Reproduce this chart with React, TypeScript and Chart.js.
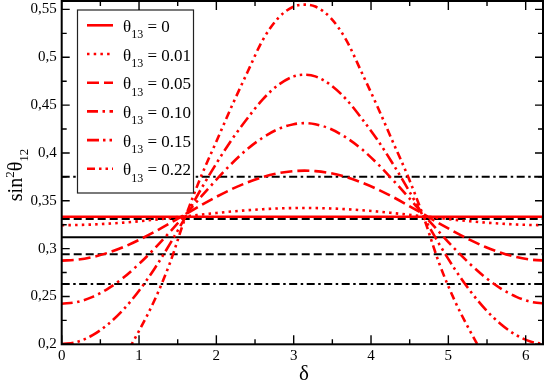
import React, { useEffect, useRef } from 'react';
import { Chart, registerables } from 'chart.js';

Chart.register(...registerables);

// ---- data ----
const DELTA = [0, 0.2, 0.4, 0.6, 0.8, 1.0, 1.2, 1.4, 1.6, 1.8, 2.0, 2.2, 2.4, 2.6, 2.8, 3.0, 3.14,
  3.28, 3.48, 3.68, 3.88, 4.08, 4.28, 4.48, 4.68, 4.88, 5.08, 5.28, 5.48, 5.68, 5.88, 6.08, 6.28];

const SIN2_T13_000 = [0.3333, 0.3333, 0.3333, 0.3333, 0.3333, 0.3333, 0.3333, 0.3333, 0.3333, 0.3333, 0.3333,
  0.3333, 0.3333, 0.3333, 0.3333, 0.3333, 0.3333, 0.3333, 0.3333, 0.3333, 0.3333, 0.3333, 0.3333, 0.3333,
  0.3333, 0.3333, 0.3333, 0.3333, 0.3333, 0.3333, 0.3333, 0.3333, 0.3333];
const SIN2_T13_001 = [0.3245, 0.3247, 0.3252, 0.3261, 0.3272, 0.3286, 0.3302, 0.332, 0.3338, 0.3355, 0.3372,
  0.3388, 0.3401, 0.3412, 0.342, 0.3424, 0.3425, 0.3424, 0.342, 0.3412, 0.3401, 0.3388, 0.3372, 0.3355,
  0.3338, 0.332, 0.3302, 0.3286, 0.3272, 0.3261, 0.3252, 0.3247, 0.3245];
const SIN2_T13_005 = [0.2875, 0.2884, 0.2912, 0.2957, 0.3017, 0.3091, 0.3175, 0.3265, 0.3359, 0.3452, 0.3541,
  0.3622, 0.3691, 0.3748, 0.3788, 0.381, 0.3815, 0.381, 0.3788, 0.3748, 0.3691, 0.3622, 0.3541, 0.3452,
  0.3359, 0.3265, 0.3175, 0.3091, 0.3017, 0.2957, 0.2912, 0.2884, 0.2875];
const SIN2_T13_010 = [0.2424, 0.2442, 0.2496, 0.2582, 0.2698, 0.284, 0.3, 0.3175, 0.3355, 0.354, 0.372,
  0.389, 0.404, 0.416, 0.425, 0.43, 0.4312, 0.43, 0.425, 0.416, 0.404, 0.389, 0.372, 0.354,
  0.3355, 0.3175, 0.3, 0.284, 0.2698, 0.2582, 0.2496, 0.2442, 0.2424];
const SIN2_T13_015 = [0.2, 0.2025, 0.2095, 0.221, 0.2365, 0.256, 0.279, 0.305, 0.333, 0.362, 0.389,
  0.414, 0.436, 0.456, 0.471, 0.48, 0.4817, 0.48, 0.471, 0.456, 0.436, 0.414, 0.389, 0.362,
  0.333, 0.305, 0.279, 0.256, 0.2365, 0.221, 0.2095, 0.2025, 0.2];
const SIN2_T13_022 = [0.123, 0.127, 0.14, 0.16, 0.1855, 0.214, 0.246, 0.285, 0.333, 0.375, 0.412,
  0.449, 0.484, 0.518, 0.541, 0.553, 0.555, 0.553, 0.541, 0.518, 0.484, 0.449, 0.412, 0.375,
  0.333, 0.285, 0.246, 0.214, 0.1855, 0.16, 0.14, 0.127, 0.123];

const THETA13_LABELS = ['0', '0.01', '0.05', '0.10', '0.15', '0.22'];
const SERIES_VALUES = [SIN2_T13_000, SIN2_T13_001, SIN2_T13_005, SIN2_T13_010, SIN2_T13_015, SIN2_T13_022];

const BEST_FIT = [0.312];
const ONE_SIGMA = [0.294, 0.331];
const THREE_SIGMA = [0.263, 0.375];

const X_MIN = 0;
const X_MAX = 6.224;
const Y_MIN = 0.2;
const Y_MAX = 0.5588;
const X_TICKS = [0, 1, 2, 3, 4, 5, 6];
const X_TICK_LABELS = ['0', '1', '2', '3', '4', '5', '6'];
const X_MINOR = [0.5, 1.5, 2.5, 3.5, 4.5, 5.5];
const Y_TICKS = [0.2, 0.25, 0.3, 0.35, 0.4, 0.45, 0.5, 0.55];
const Y_TICK_LABELS = ['0,2', '0,25', '0,3', '0,35', '0,4', '0,45', '0,5', '0,55'];
const Y_MINOR = [0.225, 0.275, 0.325, 0.375, 0.425, 0.475, 0.525];

// ---- styles ----
const RED = '#ff0000';
const FONT = '"Liberation Serif", "Times New Roman", serif';
const DASHES: number[][] = [
  [],
  [2.5, 4.2],
  [12, 5],
  [11, 4.5, 2.5, 4.5],
  [12, 4, 2.5, 4, 2.5, 4],
  [8, 4, 2.5, 4, 2.5, 4],
];
const DASH_SOLID: number[] = [];
const DASH_DASHED = [8, 4];
const DASH_DOTDASH = [8, 3.5, 2.5, 3.5];

const decorPlugin = {
  id: 'decor',
  afterDatasetsDraw(chart: any) {
    const ctx = chart.ctx as CanvasRenderingContext2D;
    ctx.save();
    const bx0 = 77.5, by0 = 10, bx1 = 193.5, by1 = 193;
    ctx.fillStyle = '#fff';
    ctx.fillRect(bx0, by0, bx1 - bx0, by1 - by0);
    ctx.strokeStyle = '#222';
    ctx.lineWidth = 1.2;
    ctx.setLineDash([]);
    ctx.strokeRect(bx0, by0, bx1 - bx0, by1 - by0);
    THETA13_LABELS.forEach((lab, i) => {
      const y = 25.3 + i * 28.7;
      ctx.beginPath();
      ctx.setLineDash(DASHES[i]);
      ctx.strokeStyle = RED;
      ctx.lineWidth = 2.6;
      ctx.lineCap = 'butt';
      ctx.moveTo(87, y);
      ctx.lineTo(113, y);
      ctx.stroke();
      ctx.setLineDash([]);
      ctx.fillStyle = '#000';
      ctx.textAlign = 'left';
      ctx.textBaseline = 'alphabetic';
      let x = 123;
      const base = y + 6.5;
      ctx.font = `17px ${FONT}`;
      ctx.fillText('θ', x, base);
      x += ctx.measureText('θ').width;
      ctx.font = `12px ${FONT}`;
      ctx.fillText('13', x, base + 6.5);
      x += ctx.measureText('13').width;
      ctx.font = `17px ${FONT}`;
      ctx.fillText(' = ' + lab, x, base);
    });
    ctx.restore();
  },
  afterDraw(chart: any) {
    const ctx = chart.ctx as CanvasRenderingContext2D;
    const { left, right, top, bottom } = chart.chartArea;
    const xs = chart.scales.x;
    const ys = chart.scales.y;
    ctx.save();
    ctx.setLineDash([]);
    ctx.strokeStyle = '#000';
    // ticks
    ctx.lineWidth = 1.4;
    ctx.beginPath();
    const xt = (vals: number[], len: number) => vals.forEach((v) => {
      const p = xs.getPixelForValue(v);
      ctx.moveTo(p, bottom); ctx.lineTo(p, bottom - len);
      ctx.moveTo(p, top); ctx.lineTo(p, top + len);
    });
    const yt = (vals: number[], len: number) => vals.forEach((v) => {
      const p = ys.getPixelForValue(v);
      ctx.moveTo(left, p); ctx.lineTo(left + len, p);
      ctx.moveTo(right, p); ctx.lineTo(right - len, p);
    });
    xt(X_TICKS, 9); xt(X_MINOR, 5);
    yt(Y_TICKS, 8); yt(Y_MINOR, 5);
    ctx.stroke();
    // frame
    ctx.lineWidth = 2;
    ctx.strokeRect(left, top, right - left, bottom - top);

    // x title
    ctx.fillStyle = '#000';
    ctx.textAlign = 'center';
    ctx.textBaseline = 'alphabetic';
    ctx.font = `21px ${FONT}`;
    ctx.fillText('δ', 304, 380);

    // y title
    ctx.translate(22, 175);
    ctx.rotate(-Math.PI / 2);
    ctx.textAlign = 'left';
    const parts: [string, number, number][] = [['sin', 20, 0], ['2', 13, -8], ['θ', 20, 0], ['12', 13, 6]];
    let w = 0;
    parts.forEach(([t, s]) => { ctx.font = `${s}px ${FONT}`; w += ctx.measureText(t).width; });
    let x = -w / 2;
    parts.forEach(([t, s, dy]) => {
      ctx.font = `${s}px ${FONT}`;
      ctx.fillText(t, x, dy);
      x += ctx.measureText(t).width;
    });
    ctx.restore();
  },
};

export default function App() {
  const ref = useRef<HTMLCanvasElement | null>(null);
  useEffect(() => {
    if (!ref.current) return;
    const curveSets = SERIES_VALUES.map((vals, i) => ({
      label: 'θ13 = ' + THETA13_LABELS[i],
      data: DELTA.map((d, j) => ({ x: d, y: vals[j] })),
      borderColor: RED,
      borderWidth: 2.6,
      borderDash: DASHES[i],
      borderCapStyle: 'butt',
      pointRadius: 0,
      cubicInterpolationMode: 'monotone',
      fill: false,
    }));
    const refLine = (v: number, dash: number[]) => ({
      label: 'ref',
      data: [{ x: 0, y: v }, { x: 6.3, y: v }],
      borderColor: '#000',
      borderWidth: 2,
      borderDash: dash,
      pointRadius: 0,
      tension: 0,
      fill: false,
    });
    const refSets = [
      ...BEST_FIT.map((v) => refLine(v, DASH_SOLID)),
      ...ONE_SIGMA.map((v) => refLine(v, DASH_DASHED)),
      ...THREE_SIGMA.map((v) => refLine(v, DASH_DOTDASH)),
    ];
    const chart = new Chart(ref.current, {
      type: 'line',
      data: { datasets: [...curveSets, ...refSets] as any },
      options: {
        responsive: false,
        animation: false,
        layout: { padding: { top: 1, right: 2, left: 0, bottom: 0 } },
        plugins: { legend: { display: false }, tooltip: { enabled: false } },
        scales: {
          x: {
            type: 'linear',
            min: X_MIN,
            max: X_MAX,
            grid: { display: false, drawTicks: false },
            border: { display: false },
            afterBuildTicks: (s: any) => { s.ticks = X_TICKS.map((v) => ({ value: v })); },
            ticks: {
              font: { family: FONT, size: 15 },
              color: '#000',
              padding: 3,
              maxRotation: 0,
              autoSkip: false,
              callback: (_v: any, i: number) => X_TICK_LABELS[i],
            },
            afterFit: (s: any) => { s.height = 37.7; s.paddingLeft = 0; s.paddingRight = 0; },
          },
          y: {
            type: 'linear',
            min: Y_MIN,
            max: Y_MAX,
            grid: { display: false, drawTicks: false },
            border: { display: false },
            afterBuildTicks: (s: any) => { s.ticks = Y_TICKS.map((v) => ({ value: v })); },
            ticks: {
              font: { family: FONT, size: 15 },
              color: '#000',
              padding: 5,
              autoSkip: false,
              callback: (_v: any, i: number) => Y_TICK_LABELS[i],
            },
            afterFit: (s: any) => { s.width = 61.7; s.paddingTop = 0; s.paddingBottom = 0; },
          },
        },
      } as any,
      plugins: [decorPlugin],
    });
    return () => chart.destroy();
  }, []);
  return (
    <div style={{ position: 'absolute', left: 0, top: 0, width: 545, height: 382, background: '#fff' }}>
      <canvas ref={ref} width={545} height={382} style={{ display: 'block' }} />
    </div>
  );
}
